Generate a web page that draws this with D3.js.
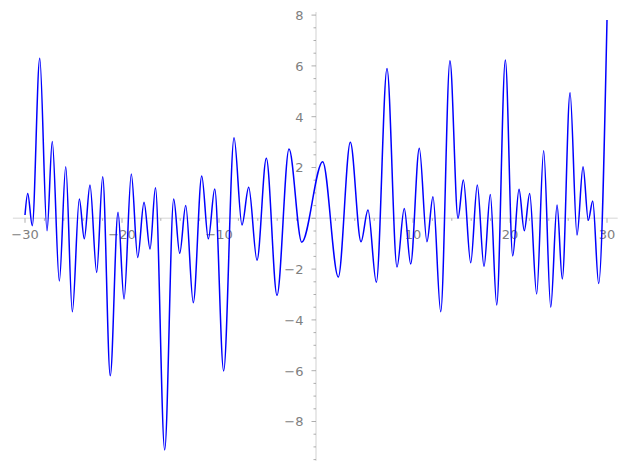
<!DOCTYPE html>
<html>
<head>
<meta charset="utf-8">
<script src="https://cdn.jsdelivr.net/npm/d3@7"></script>
<style>
  body { margin: 0; background: #fff; }
  svg text { font-family: "DejaVu Sans", sans-serif; font-size: 13px; fill: #808080; }
</style>
</head>
<body>
<div id="chart"></div>
<script>
// points (turning points of the curve)
const xs = [-30, -29.72, -29.25, -28.48, -27.73, -27.19, -26.46, -25.80, -25.12, -24.40,
  -23.89, -23.30, -22.61, -21.99, -21.21, -20.41, -19.79, -19.04, -18.38, -17.73,
  -17.11, -16.55, -15.60, -14.67, -14.05, -13.43, -12.65, -11.78, -11.10, -10.44,
  -9.52, -8.45, -7.63, -6.94, -6.08, -5.12, -4.02, -2.78, -1.47, 0.69,
  2.30, 3.54, 4.64, 5.36, 6.22, 7.32, 8.35, 9.10, 9.76, 10.65,
  11.44, 12.06, 12.86, 13.81, 14.64, 15.19, 15.95, 16.63, 17.32, 17.97,
  18.63, 19.52, 20.28, 20.93, 21.47, 22.03, 22.75, 23.47, 24.20, 24.85,
  25.39, 26.19, 26.91, 27.53, 28.07, 28.53, 29.14, 30];
const ys = [0.13, 0.98, -0.29, 6.3, -0.49, 3.02, -2.47, 2.03, -3.68, 0.76,
  -0.81, 1.31, -2.13, 1.64, -6.2, 0.24, -3.18, 1.74, -1.54, 0.63,
  -1.21, 1.2, -9.12, 0.76, -1.38, 0.5, -3.32, 1.67, -0.81, 1.15,
  -6.01, 3.17, -0.26, 1.22, -1.65, 2.36, -3.03, 2.73, -0.94, 2.23,
  -2.31, 2.99, -0.92, 0.33, -2.52, 5.9, -1.92, 0.39, -1.8, 2.76,
  -0.92, 0.85, -3.68, 6.2, 0.0, 1.51, -1.75, 1.31, -1.9, 0.94,
  -3.41, 6.23, -1.48, 1.14, -0.49, 0.98, -2.98, 2.66, -3.5, 0.52,
  -2.39, 4.94, -0.66, 2.03, -0.08, 0.68, -2.57, 7.81];

const xMajor = [-30, -20, -10, 10, 20, 30];
const yMajor = [-8, -6, -4, -2, 2, 4, 6, 8];

const width = 627, height = 469;

const x = d3.scaleLinear().domain([-30, 30]).range([25, 607]);
const y = d3.scaleLinear().domain([-8, 8]).range([421.5, 15.1]);

const svg = d3.select("#chart").append("svg")
  .attr("width", width)
  .attr("height", height);

const fmt = d => (d < 0 ? "\u2212" : "") + Math.abs(d);

// x axis
const gx = svg.append("g");
gx.append("line")
  .attr("x1", x(-31.25)).attr("x2", x(31.1))
  .attr("y1", y(0)).attr("y2", y(0))
  .attr("stroke", "#e3e3e3").attr("stroke-width", 1.6);
gx.selectAll("line.minor")
  .data(d3.range(-30, 31, 2).filter(v => v % 10 !== 0))
  .enter().append("line").attr("class", "minor")
  .attr("x1", d => x(d)).attr("x2", d => x(d))
  .attr("y1", y(0)).attr("y2", y(0) + 2.5)
  .attr("stroke", "#999").attr("stroke-width", 0.8);
gx.selectAll("line.major")
  .data(xMajor)
  .enter().append("line").attr("class", "major")
  .attr("x1", d => x(d)).attr("x2", d => x(d))
  .attr("y1", y(0)).attr("y2", y(0) + 4.5)
  .attr("stroke", "#999").attr("stroke-width", 0.8);
gx.selectAll("text")
  .data(xMajor)
  .enter().append("text")
  .attr("x", d => x(d))
  .attr("y", y(0) + 20.3)
  .attr("text-anchor", "middle")
  .text(fmt);

// y axis
const gy = svg.append("g");
gy.append("line")
  .attr("x1", x(0)).attr("x2", x(0))
  .attr("y1", y(8.12)).attr("y2", y(-9.55))
  .attr("stroke", "#e3e3e3").attr("stroke-width", 1.6);
gy.selectAll("line.minor")
  .data(d3.range(-9.5, 8.01, 0.5).filter(v => v % 2 !== 0))
  .enter().append("line").attr("class", "minor")
  .attr("x1", x(0) - 2.5).attr("x2", x(0))
  .attr("y1", d => y(d)).attr("y2", d => y(d))
  .attr("stroke", "#999").attr("stroke-width", 0.8);
gy.selectAll("line.major")
  .data(yMajor.concat([0]))
  .enter().append("line").attr("class", "major")
  .attr("x1", x(0) - 4.5).attr("x2", x(0))
  .attr("y1", d => y(d)).attr("y2", d => y(d))
  .attr("stroke", "#999").attr("stroke-width", 0.8);
gy.selectAll("text")
  .data(yMajor)
  .enter().append("text")
  .attr("x", x(0) - 12.5)
  .attr("y", d => y(d) + 4.8)
  .attr("text-anchor", "end")
  .text(fmt);

// curve
const line = d3.line()
  .x((d, i) => x(xs[i]))
  .y(d => y(d))
  .curve(d3.curveMonotoneX);

svg.append("path")
  .datum(ys)
  .attr("d", line)
  .attr("fill", "none")
  .attr("stroke", "#0000ff")
  .attr("stroke-width", 1.5);
</script>
</body>
</html>
